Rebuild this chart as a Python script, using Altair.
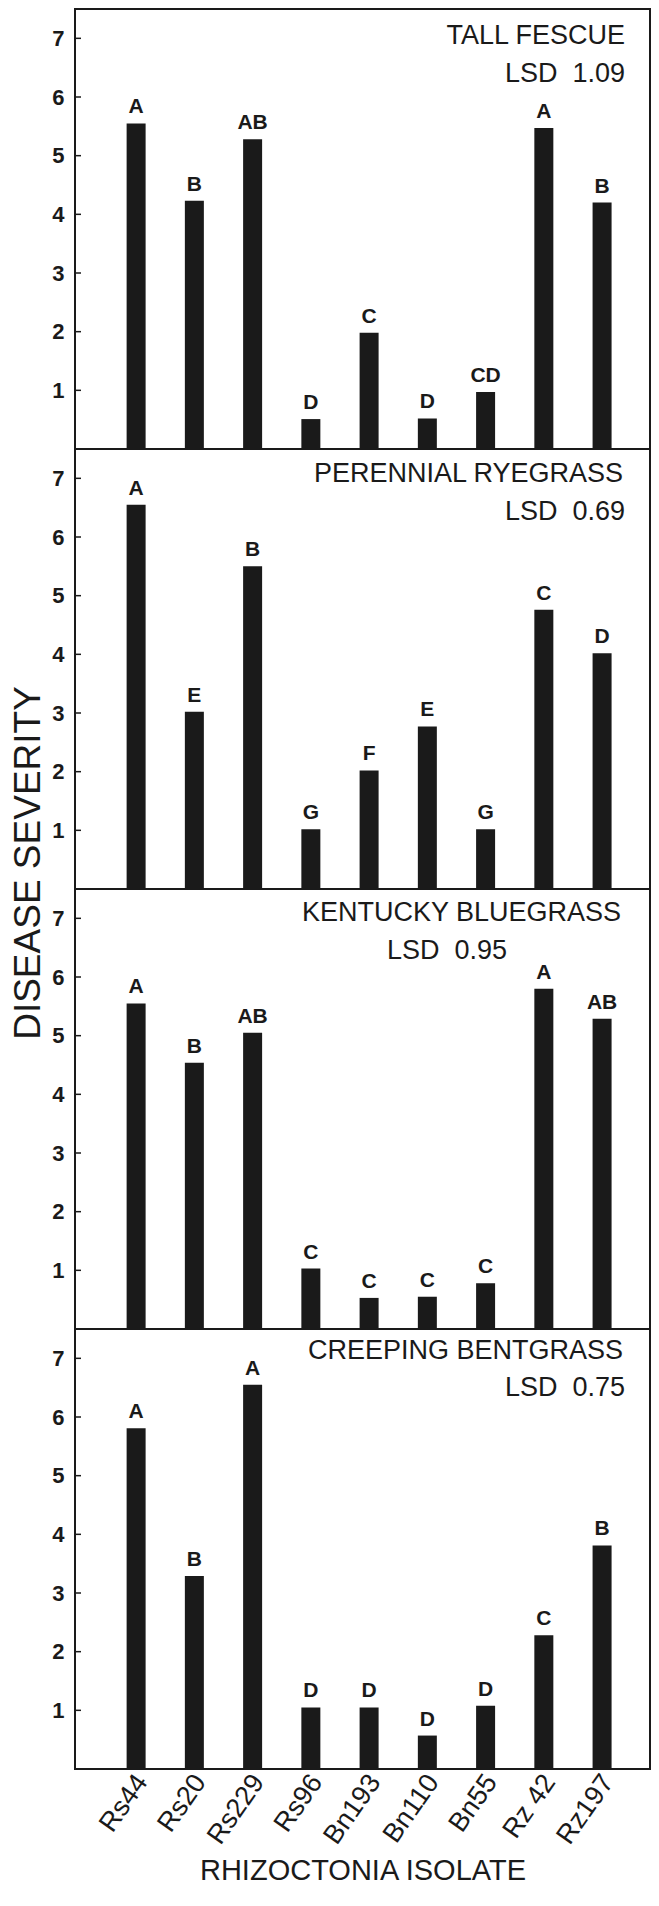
import altair as alt
import pandas as pd

isolates = ["Rs44", "Rs20", "Rs229", "Rs96", "Bn193", "Bn110", "Bn55", "Rz 42", "Rz197"]

tall_fescue = [5.55, 4.23, 5.28, 0.51, 1.98, 0.52, 0.97, 5.47, 4.20]
tall_fescue_letters = ["A", "B", "AB", "D", "C", "D", "CD", "A", "B"]

perennial_ryegrass = [6.55, 3.02, 5.50, 1.02, 2.02, 2.77, 1.02, 4.76, 4.02]
perennial_ryegrass_letters = ["A", "E", "B", "G", "F", "E", "G", "C", "D"]

kentucky_bluegrass = [5.55, 4.54, 5.05, 1.03, 0.53, 0.55, 0.78, 5.80, 5.29]
kentucky_bluegrass_letters = ["A", "B", "AB", "C", "C", "C", "C", "A", "AB"]

creeping_bentgrass = [5.81, 3.29, 6.55, 1.05, 1.05, 0.57, 1.08, 2.28, 3.81]
creeping_bentgrass_letters = ["A", "B", "A", "D", "D", "D", "D", "C", "B"]

species = ["TALL FESCUE", "PERENNIAL RYEGRASS", "KENTUCKY BLUEGRASS", "CREEPING BENTGRASS"]
lsd_values = ["1.09", "0.69", "0.95", "0.75"]
y_ticks = [1, 2, 3, 4, 5, 6, 7]
y_title = "DISEASE SEVERITY"
x_title = "RHIZOCTONIA ISOLATE"

W = 575
H = 440
FONT = "Liberation Sans"
INK = "#1a1a1a"

series = [
    (tall_fescue, tall_fescue_letters),
    (perennial_ryegrass, perennial_ryegrass_letters),
    (kentucky_bluegrass, kentucky_bluegrass_letters),
    (creeping_bentgrass, creeping_bentgrass_letters),
]

# annotation placement (pixels inside each panel)
name_pos = [(550, 35), (548, 33), (546, 32), (548, 30)]
lsd_pos = [(550, 73), (550, 71), (432, 70), (550, 67)]

tick_df = pd.DataFrame({"t": y_ticks})

panels = []
for i, (vals, letters) in enumerate(series):
    df = pd.DataFrame({"isolate": isolates, "severity": vals, "letter": letters})
    last = i == 3
    if last:
        x_axis = alt.Axis(
            labelAngle=-55, labelAlign="right", labelBaseline="middle",
            labelFontSize=27, labelPadding=8, ticks=False, domain=False,
            labelColor=INK, labelOffset=6, title=x_title, titleFontSize=29,
            titleFontWeight="normal", titlePadding=8, titleColor=INK,
        )
    else:
        x_axis = None
    x_enc = alt.X("isolate:N", sort=isolates,
                  scale=alt.Scale(paddingInner=0, paddingOuter=0.436, align=0.63),
                  axis=x_axis)
    y_axis = alt.Axis(
        values=y_ticks, format="d", ticks=False, domain=False, grid=False,
        labelFontSize=22, labelFontWeight="bold", labelPadding=11, labelColor=INK,
        title=None,
    )
    y_scale = alt.Scale(domain=[0, 7.5], nice=False, zero=True)

    bars = alt.Chart(df).mark_bar(size=19, color=INK).encode(
        x=x_enc,
        y=alt.Y("severity:Q", scale=y_scale, axis=y_axis),
    )
    letters_layer = alt.Chart(df).mark_text(
        baseline="alphabetic", dy=-10, fontSize=21, fontWeight="bold", color=INK, font=FONT,
    ).encode(
        x=alt.X("isolate:N", sort=isolates),
        y=alt.Y("severity:Q"),
        text="letter:N",
    )
    ticks = alt.Chart(tick_df).mark_rule(color=INK, strokeWidth=1.5).encode(
        y=alt.Y("t:Q"),
        x=alt.value(0),
        x2=alt.value(6),
    )
    name_df = pd.DataFrame({"label": [species[i]]})
    name_text = alt.Chart(name_df).mark_text(
        align="right", baseline="alphabetic", fontSize=27, color=INK, font=FONT,
    ).encode(x=alt.value(name_pos[i][0]), y=alt.value(name_pos[i][1]), text="label:N")
    lsd_df = pd.DataFrame({"label": ["LSD\u00a0\u00a0" + lsd_values[i]]})
    lsd_text = alt.Chart(lsd_df).mark_text(
        align="right", baseline="alphabetic", fontSize=27, color=INK, font=FONT,
    ).encode(x=alt.value(lsd_pos[i][0]), y=alt.value(lsd_pos[i][1]), text="label:N")

    layers = [bars, letters_layer, ticks, name_text, lsd_text]
    if i == 2:
        ttl_df = pd.DataFrame({"label": [y_title]})
        ttl = alt.Chart(ttl_df).mark_text(
            angle=270, align="center", baseline="middle", fontSize=37,
            color=INK, font=FONT,
        ).encode(x=alt.value(-46), y=alt.value(-26), text="label:N")
        layers.append(ttl)

    panel = alt.layer(*layers).properties(width=W, height=H)
    panels.append(panel)

chart = alt.vconcat(*panels, spacing=0, bounds="flush").properties(
    padding={"left": 0, "top": 0, "right": 0, "bottom": 0}
).configure(font=FONT).configure_view(
    stroke=INK, strokeWidth=2
).configure_axis(labelFont=FONT, titleFont=FONT)

chart.save("out.html", embed_options={"renderer": "svg", "actions": False})
